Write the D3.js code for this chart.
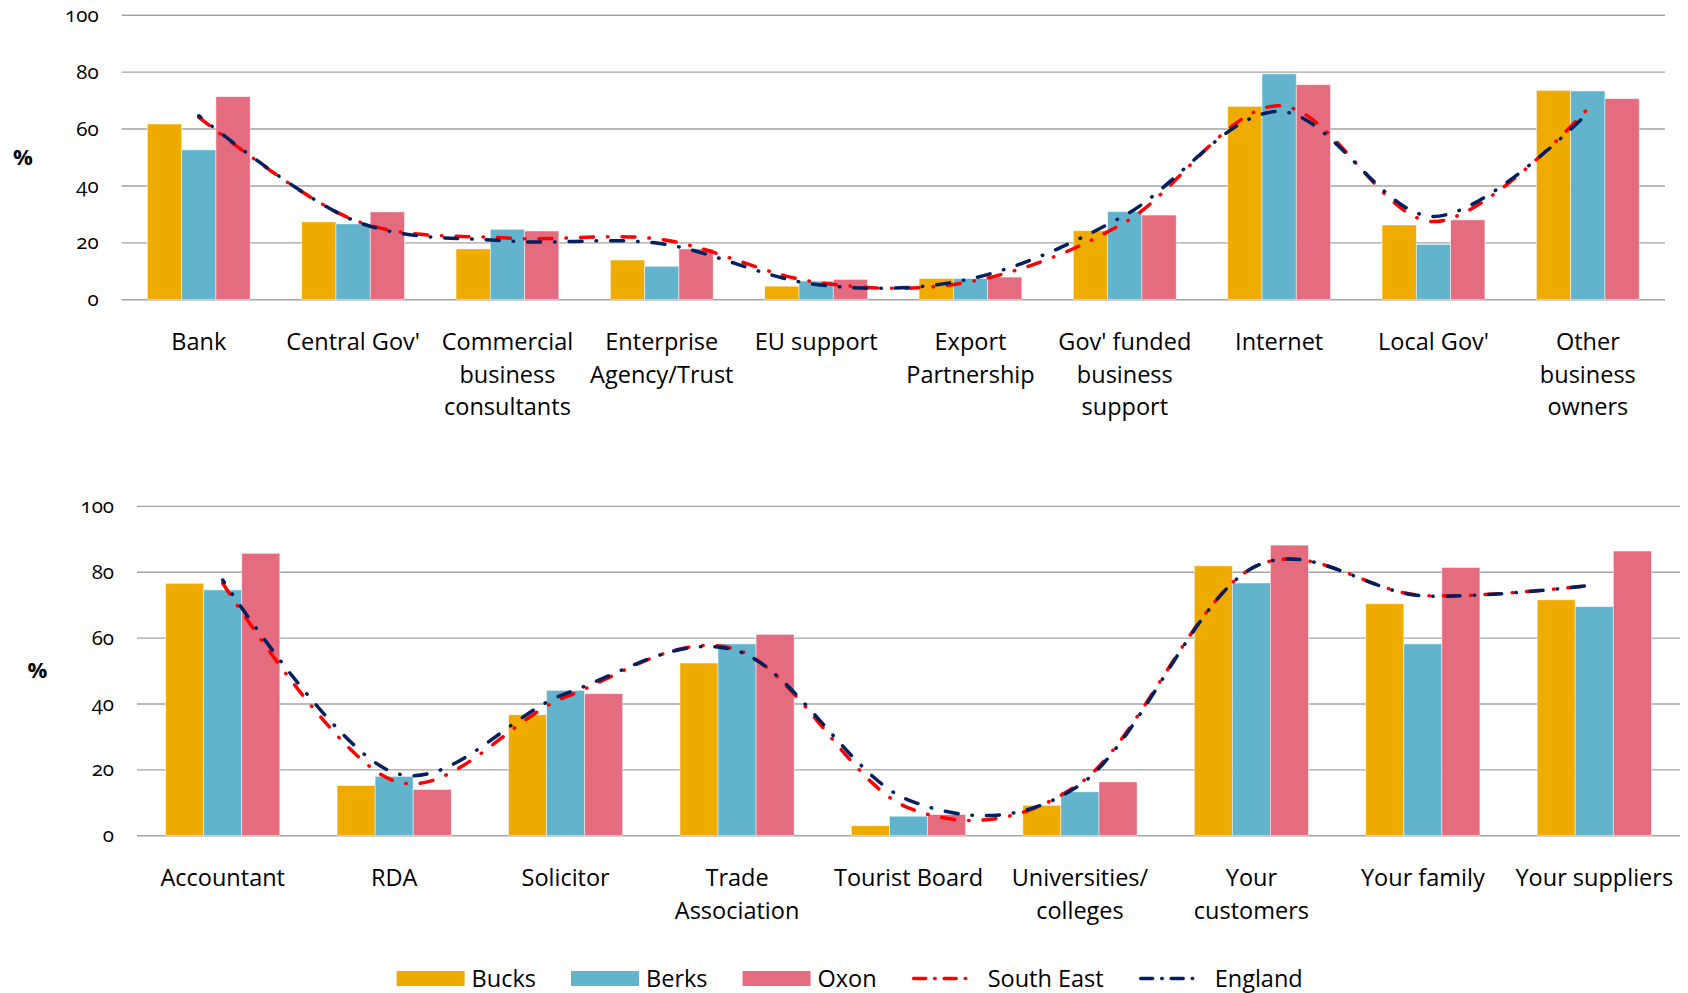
<!DOCTYPE html>
<html>
<head>
<meta charset="utf-8">
<script src="https://cdn.jsdelivr.net/npm/d3@7"></script>
<style>
  html, body { margin: 0; padding: 0; background: #fff; }
  svg { display: block; }
  text { font-family: "Open Sans", Lato, sans-serif; fill: #000; }
</style>
</head>
<body>
<svg id="chart" width="1688" height="993"></svg>
<script>
// ---------- DATA ----------
const seriesNames = ["Bucks", "Berks", "Oxon", "South East", "England"];
const tickLabels = [0, 20, 40, 60, 80, 100];

const categoriesTop = ["Bank", "Central Gov'", "Commercial\nbusiness\nconsultants", "Enterprise\nAgency/Trust",
  "EU support", "Export\nPartnership", "Gov' funded\nbusiness\nsupport", "Internet", "Local Gov'",
  "Other\nbusiness\nowners"];
const bucksTop = [61.6, 27.2, 17.7, 13.8, 4.6, 7.3, 24.1, 67.8, 26.1, 73.4];
const berksTop = [52.5, 26.5, 24.6, 11.6, 6.4, 7.3, 30.8, 79.2, 19.3, 73.2];
const oxonTop  = [71.2, 30.7, 24.0, 17.7, 7.0, 7.8, 29.6, 75.4, 27.9, 70.5];
const southEastTop = [64.0, 28.0, 21.5, 21.0, 6.0, 6.2, 27.0, 68.0, 27.3, 67.0];
const englandTop   = [64.5, 27.8, 20.5, 19.5, 5.2, 7.2, 29.5, 66.0, 29.1, 65.5];

const categoriesBottom = ["Accountant", "RDA", "Solicitor", "Trade\nAssociation", "Tourist Board",
  "Universities/\ncolleges", "Your\ncustomers", "Your family", "Your suppliers"];
const bucksBottom = [76.5, 15.1, 36.6, 52.3, 2.9, 9.1, 81.8, 70.3, 71.5];
const berksBottom = [74.5, 17.9, 44.0, 58.1, 5.8, 13.2, 76.6, 58.1, 69.4];
const oxonBottom  = [85.6, 13.9, 43.0, 61.0, 6.3, 16.2, 88.1, 81.3, 86.3];
const southEastBottom = [76.5, 16.5, 42.0, 56.3, 8.3, 15.8, 81.0, 72.8, 76.0];
const englandBottom   = [77.5, 19.0, 43.0, 56.0, 10.7, 15.3, 81.0, 72.7, 76.0];

// ---------- STYLE ----------
const barColors = ["#EFAB00", "#62B4CC", "#E56B7E"];
const lineColors = ["#FF0000", "#002060"];
const dash = "13,14,0.5,14";
const FONT = "'Open Sans', Lato, sans-serif";
const LABEL_SIZE = 23.5;

const svg = d3.select("#chart");

function panel(cfg) {
  const {cats, bars, lines, left, right, top, bottom} = cfg;
  const g = svg.append("g");
  const x = d3.scaleBand().domain(cats).range([left, right]).paddingInner(0.334).paddingOuter(0.167);
  const xs = d3.scaleBand().domain([0, 1, 2]).range([0, x.bandwidth()]);
  const y = d3.scaleLinear().domain([0, 100]).range([bottom, top]);

  // grid + y axis
  const ya = d3.axisLeft(y).tickValues(tickLabels).tickSize(-(right - left)).tickPadding(23);
  const yg = g.append("g").attr("transform", `translate(${left},0)`).call(ya);
  yg.select(".domain").remove();
  yg.selectAll(".tick line").attr("stroke", "#a3a3a3").attr("stroke-width", 1.4);
  yg.selectAll(".tick text").attr("font-size", 20.5).attr("font-family", "Lato, sans-serif")
    .style("font-variant-numeric", "oldstyle-nums").style("font-feature-settings", "'onum' 1").attr("fill", "#000");

  // % label
  g.append("text").attr("x", cfg.pctX).attr("y", (top + bottom) / 2).attr("dy", "0.35em")
    .attr("text-anchor", "middle").attr("font-size", 22).attr("font-weight", "bold")
    .attr("font-family", FONT).text("%");

  // bars
  bars.forEach((vals, si) => {
    g.append("g").selectAll("rect").data(vals).join("rect")
      .attr("x", (d, i) => x(cats[i]) + xs(si))
      .attr("width", xs.bandwidth())
      .attr("y", d => y(d))
      .attr("height", d => y(0) - y(d))
      .attr("fill", barColors[si])
      .attr("stroke", "#fff").attr("stroke-width", 0.8).attr("stroke-opacity", 0.6);
  });

  // lines
  const line = d3.line()
    .x((d, i) => x(cats[i]) + x.bandwidth() / 2)
    .y(d => y(d))
    .curve(d3.curveCardinal.tension(0));
  lines.forEach((vals, li) => {
    g.append("path").datum(vals).attr("d", line)
      .attr("fill", "none").attr("stroke", lineColors[li]).attr("stroke-width", 3.5)
      .attr("stroke-linecap", "round").attr("stroke-dasharray", dash)
      .attr("stroke-dashoffset", li === 0 ? 0 : 10);
  });

  // x axis labels
  const xa = d3.axisBottom(x).tickSize(0).tickPadding(0);
  const xg = g.append("g").attr("transform", `translate(0,${bottom})`).call(xa);
  xg.select(".domain").remove();
  xg.selectAll(".tick text").each(function(d) {
    const t = d3.select(this);
    t.text(null).attr("y", 51).attr("dy", null).attr("font-size", LABEL_SIZE)
      .attr("font-family", FONT).attr("fill", "#000");
    d.split("\n").forEach((s, k) => {
      t.append("tspan").attr("x", 0).attr("y", 51 + k * 32.3).text(s);
    });
  });
}

panel({cats: categoriesTop, bars: [bucksTop, berksTop, oxonTop], lines: [southEastTop, englandTop],
  left: 121.6, right: 1665, top: 14.7, bottom: 299.3, pctX: 23});
panel({cats: categoriesBottom, bars: [bucksBottom, berksBottom, oxonBottom], lines: [southEastBottom, englandBottom],
  left: 137, right: 1680, top: 505.9, bottom: 835.3, pctX: 37.5});

// legend
const lg = svg.append("g");
let lx = 396.6;
const ly = 978.5;
seriesNames.forEach((name, i) => {
  const item = lg.append("g");
  let tx;
  if (i < 3) {
    item.append("rect").attr("x", lx).attr("y", ly - 7.5).attr("width", 68).attr("height", 15).attr("fill", barColors[i]);
    tx = lx + 75;
  } else {
    item.append("line").attr("x1", lx + 2).attr("x2", lx + 55).attr("y1", ly).attr("y2", ly)
      .attr("stroke", lineColors[i - 3]).attr("stroke-width", 3.5).attr("stroke-linecap", "round")
      .attr("stroke-dasharray", "12,9,0.5,9");
    tx = lx + 76;
  }
  const t = item.append("text").attr("x", tx).attr("y", ly).attr("dy", "0.35em").attr("font-size", LABEL_SIZE)
    .attr("font-family", FONT).text(name);
  lx = tx + t.node().getComputedTextLength() + 35;
});
</script>
</body>
</html>
